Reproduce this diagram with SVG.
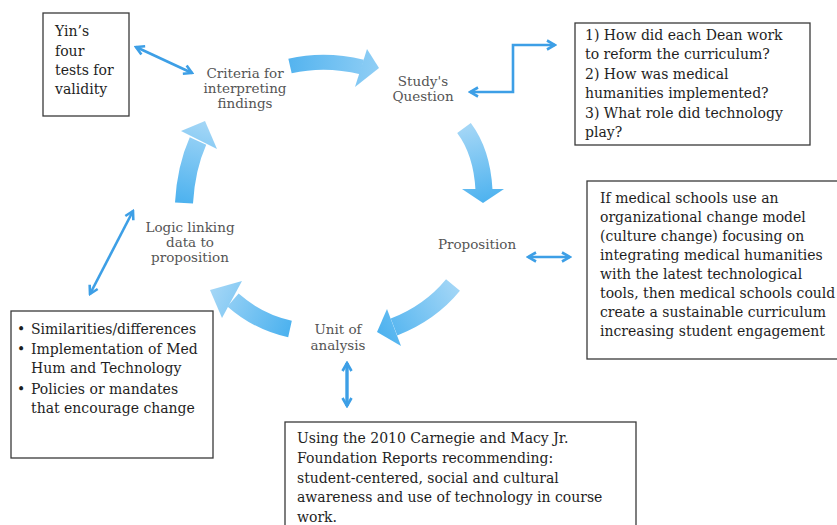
<svg xmlns="http://www.w3.org/2000/svg" width="837" height="525" viewBox="0 0 837 525">
<style>
.box{fill:#fff;stroke:#3a3a3a;stroke-width:1.3}
.bt{font-family:"DejaVu Serif","Liberation Serif",serif;font-size:14px;fill:#1e1e1e}
.lb{font-family:"DejaVu Serif","Liberation Serif",serif;font-size:13.5px;fill:#555;text-anchor:middle}
.thin{fill:none;stroke:#3d9fe6;stroke-width:2.6;marker-start:url(#ah);marker-end:url(#ah)}
</style>
<defs>
<marker id="ah" viewBox="0 0 12 12" refX="10" refY="6" markerWidth="12" markerHeight="12" markerUnits="userSpaceOnUse" orient="auto-start-reverse">
<path d="M2,1.5 L10,6 L2,10.5" fill="none" stroke="#3d9fe6" stroke-width="2.6"/>
</marker>
<linearGradient id="gA" gradientUnits="userSpaceOnUse" x1="290" y1="66" x2="378" y2="68"><stop offset="0" stop-color="#55b4ef"/><stop offset="1" stop-color="#8fcef5"/></linearGradient>
<linearGradient id="gB" gradientUnits="userSpaceOnUse" x1="464" y1="128" x2="483" y2="203"><stop offset="0" stop-color="#a3d6f6"/><stop offset="1" stop-color="#4db2ef"/></linearGradient>
<linearGradient id="gC" gradientUnits="userSpaceOnUse" x1="455" y1="283" x2="378" y2="332"><stop offset="0" stop-color="#a3d6f6"/><stop offset="1" stop-color="#4db2ef"/></linearGradient>
<linearGradient id="gD" gradientUnits="userSpaceOnUse" x1="290" y1="329" x2="212" y2="290"><stop offset="0" stop-color="#4db2ef"/><stop offset="1" stop-color="#a3d6f6"/></linearGradient>
<linearGradient id="gE" gradientUnits="userSpaceOnUse" x1="184" y1="203" x2="205" y2="123"><stop offset="0" stop-color="#4db2ef"/><stop offset="1" stop-color="#a3d6f6"/></linearGradient>
</defs>
<rect width="837" height="525" fill="#fff"/>

<g id="cycle-arrows">
<path d="M290,66 Q325,58 362,67" fill="none" stroke="url(#gA)" stroke-width="15"/>
<polygon points="367,49 379,68 355,87" fill="url(#gA)"/>
<path d="M464,128 Q482,152 484,190" fill="none" stroke="url(#gB)" stroke-width="17"/>
<polygon points="462,189 504,189 483,203" fill="url(#gB)"/>
<path d="M453,285 Q430,313 394,327" fill="none" stroke="url(#gC)" stroke-width="18"/>
<polygon points="387,309 377,332 401,346" fill="url(#gC)"/>
<path d="M290,329 Q258,322 233,300" fill="none" stroke="url(#gD)" stroke-width="17"/>
<polygon points="242,281 210,290 222,318" fill="url(#gD)"/>
<path d="M184,203 Q186,168 198,141" fill="none" stroke="url(#gE)" stroke-width="18"/>
<polygon points="181,131 205,121 217,149" fill="url(#gE)"/>
</g>

<g id="connectors">
<line class="thin" x1="136" y1="47" x2="192" y2="73"/>
<polyline class="thin" points="470,92 513,92 513,45 555,45"/>
<line class="thin" x1="528" y1="257" x2="570" y2="257"/>
<line class="thin" x1="133" y1="211" x2="90" y2="294"/>
<line class="thin" x1="347" y1="363" x2="347" y2="406" style="stroke-width:3.4"/>
</g>

<g id="criteria">
<text class="lb" x="245" y="78">Criteria for</text>
<text class="lb" x="245" y="93">interpreting</text>
<text class="lb" x="245" y="108">findings</text>
</g>
<g id="study-question">
<text class="lb" x="423" y="86">Study's</text>
<text class="lb" x="423" y="101">Question</text>
</g>
<g id="proposition">
<text class="lb" x="477" y="249">Proposition</text>
</g>
<g id="unit">
<text class="lb" x="338" y="334">Unit of</text>
<text class="lb" x="338" y="350">analysis</text>
</g>
<g id="logic">
<text class="lb" x="190" y="232">Logic linking</text>
<text class="lb" x="190" y="247">data to</text>
<text class="lb" x="190" y="262">proposition</text>
</g>

<g id="yin-box">
<rect class="box" x="43" y="13" width="86" height="103"/>
<text class="bt" x="55" y="36">Yin’s</text>
<text class="bt" x="55" y="56">four</text>
<text class="bt" x="55" y="75">tests for</text>
<text class="bt" x="55" y="94">validity</text>
</g>

<g id="questions-box">
<rect class="box" x="575" y="23" width="235" height="122"/>
<text class="bt" x="585" y="40">1) How did each Dean work</text>
<text class="bt" x="585" y="59">to reform the curriculum?</text>
<text class="bt" x="585" y="79">2) How was medical</text>
<text class="bt" x="585" y="98">humanities implemented?</text>
<text class="bt" x="585" y="118">3) What role did technology</text>
<text class="bt" x="585" y="137">play?</text>
</g>

<g id="proposition-box">
<rect class="box" x="587" y="181" width="270" height="178"/>
<text class="bt" x="600" y="203">If medical schools use an</text>
<text class="bt" x="600" y="222">organizational change model</text>
<text class="bt" x="600" y="241">(culture change) focusing on</text>
<text class="bt" x="600" y="260">integrating medical humanities</text>
<text class="bt" x="600" y="279">with the latest technological</text>
<text class="bt" x="600" y="298">tools, then medical schools could</text>
<text class="bt" x="600" y="317">create a sustainable curriculum</text>
<text class="bt" x="600" y="336">increasing student engagement</text>
</g>

<g id="logic-box">
<rect class="box" x="11" y="311" width="202" height="147"/>
<text class="bt" x="17" y="334">•</text>
<text class="bt" x="31" y="334">Similarities/differences</text>
<text class="bt" x="17" y="354">•</text>
<text class="bt" x="31" y="354">Implementation of Med</text>
<text class="bt" x="31" y="373">Hum and Technology</text>
<text class="bt" x="17" y="394">•</text>
<text class="bt" x="31" y="394">Policies or mandates</text>
<text class="bt" x="31" y="413">that encourage change</text>
</g>

<g id="unit-box">
<rect class="box" x="285" y="422" width="351" height="130"/>
<text class="bt" x="297" y="443">Using the 2010 Carnegie and Macy Jr.</text>
<text class="bt" x="297" y="463">Foundation Reports recommending:</text>
<text class="bt" x="297" y="483">student-centered, social and cultural</text>
<text class="bt" x="297" y="502">awareness and use of technology in course</text>
<text class="bt" x="297" y="522">work.</text>
</g>
</svg>
